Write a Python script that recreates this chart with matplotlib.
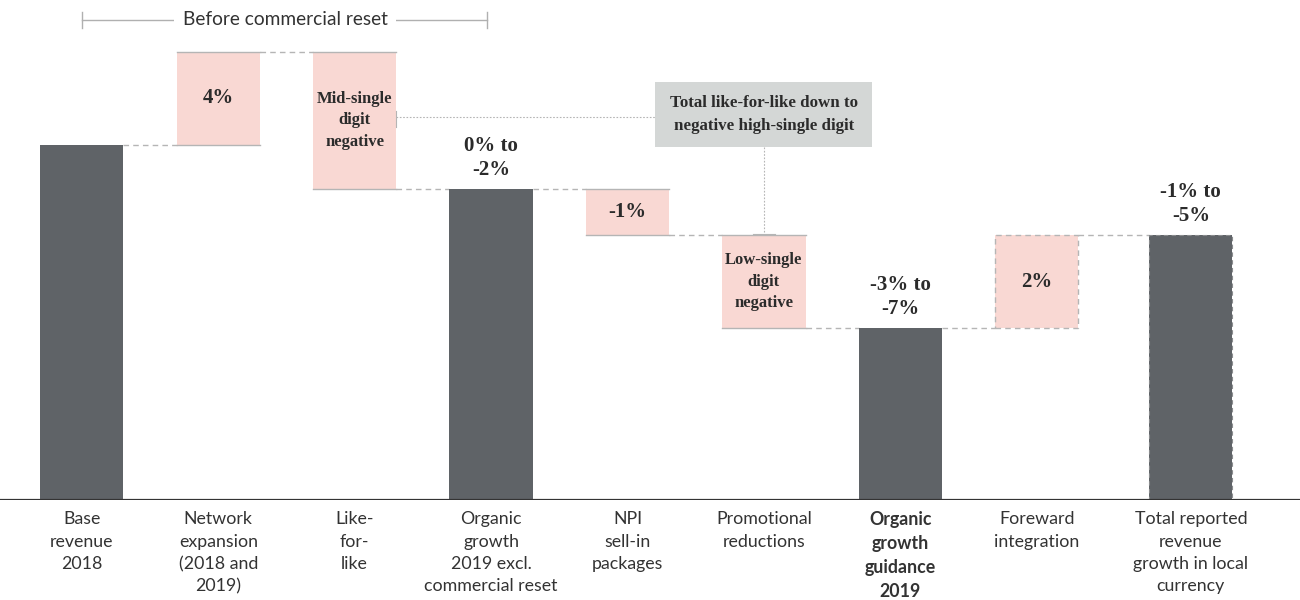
import matplotlib.pyplot as plt
import numpy as np
from matplotlib.patches import Rectangle

# data
categories = ['Base\nrevenue\n2018', 'Network\nexpansion\n(2018 and\n2019)', 'Like-\nfor-\nlike',
              'Organic\ngrowth\n2019 excl.\ncommercial reset', 'NPI\nsell-in\npackages',
              'Promotional\nreductions', 'Organic\ngrowth\nguidance\n2019', 'Foreward\nintegration',
              'Total reported\nrevenue\ngrowth in local\ncurrency']
kinds = ['start', 'delta', 'delta', 'total', 'delta', 'delta', 'total', 'delta', 'total']
changes = [100, 26.2, -38.6, 0, -13.0, -26.2, 0, 26.2, 0]
bar_labels = ['', '4%', 'Mid-single\ndigit\nnegative', '0% to\n-2%', '-1%',
              'Low-single\ndigit\nnegative', '-3% to\n-7%', '2%', '-1% to\n-5%']
bracket_text = 'Before commercial reset'
box_text = 'Total like-for-like down to\nnegative high-single digit'

DARK = '#5f6367'
PINK = '#f9d8d3'
EDGE = '#b5b5b5'

# running waterfall levels
level = 0.0
bottoms, heights, ends = [], [], []
for k, v in zip(kinds, changes):
    if k == 'start':
        level = v
        bottoms.append(0); heights.append(v)
    elif k == 'total':
        bottoms.append(0); heights.append(level)
    else:
        bottoms.append(min(level, level + v)); heights.append(abs(v))
        level += v
    ends.append(level)

x = np.arange(len(categories), dtype=float)
x[-1] += 0.13
w = 0.61

fig = plt.figure(figsize=(13, 6), dpi=100)
ax = fig.add_axes([0, 1/6, 1, 5/6])
ax.set_xlim(-0.6, 8.93)
ax.set_ylim(0, 140.8)
ax.axis('off')

for i, k in enumerate(kinds):
    if k == 'delta':
        ax.bar(x[i], heights[i], w, bottom=bottoms[i], color=PINK, zorder=2)
        if i == 7:
            ax.bar(x[i], heights[i], w, bottom=bottoms[i], fill=False, edgecolor=EDGE,
                   lw=1, linestyle=(0, (4, 3)), zorder=3)
        else:
            for yy in (bottoms[i], bottoms[i] + heights[i]):
                ax.plot([x[i] - w/2, x[i] + w/2], [yy, yy], color=EDGE, lw=1, zorder=3)
    else:
        ax.bar(x[i], heights[i], w, bottom=0, color=DARK, zorder=2)
        if i == 8:
            ax.bar(x[i], heights[i], w, bottom=0, fill=False, edgecolor='#8a8c8e',
                   lw=0.8, linestyle=(0, (4, 3)), zorder=3)

# connectors
for i in range(len(categories) - 1):
    ax.plot([x[i] + w/2, x[i+1] - w/2], [ends[i], ends[i]], color=EDGE, lw=1,
            linestyle=(0, (4, 3)), zorder=1)

# baseline
ax.axhline(0, color='#333333', lw=1.6, zorder=4)

# value labels
serif = 'Liberation Serif'
for i, lab in enumerate(bar_labels):
    if not lab:
        continue
    if kinds[i] == 'delta':
        fs = 12 if '\n' in lab else 15
        ax.text(x[i], bottoms[i] + heights[i] / 2, lab, ha='center', va='center',
                fontsize=fs, fontweight='bold', family=serif, color='#2b2b2b',
                linespacing=1.45, zorder=5)
    else:
        ax.text(x[i], heights[i] + 2.6, lab, ha='center', va='bottom', fontsize=15,
                fontweight='bold', family=serif, color='#2b2b2b', linespacing=1.25, zorder=5)

# category labels
for i, lab in enumerate(categories):
    ax.text(x[i], -3.2, lab, ha='center', va='top', fontsize=12.8, family='Lato',
            color='#333333', linespacing=1.48,
            fontweight='bold' if i == 6 else 'normal', clip_on=False)

# top bracket
by = 135.2
ax.plot([0, 2.97], [by, by], color='#b0b0b0', lw=1)
for bx in (0, 2.97):
    ax.plot([bx, bx], [133.0, 137.5], color='#b0b0b0', lw=1)
ax.text(1.49, by, bracket_text, ha='center', va='center', fontsize=13.8, family='Lato',
        color='#333333', bbox=dict(facecolor='white', edgecolor='none', pad=6))

# annotation box
bx0, bw, byc, bh = 5.0, 1.59, 108.6, 18.3
ax.add_patch(Rectangle((bx0 - bw/2, byc - bh/2), bw, bh, facecolor='#d4d7d6',
                       edgecolor='none', zorder=3))
ax.text(bx0, byc, box_text, ha='center', va='center', fontsize=12.2, fontweight='bold',
        family=serif, color='#2b2b2b', linespacing=1.6, zorder=4)
ly = 107.9
ax.plot([x[2] + w/2, bx0 - bw/2], [ly, ly], color='#b5b5b5', lw=0.8,
        linestyle=(0, (1.5, 1.5)), zorder=1)
ax.plot([x[2] + w/2] * 2, [105.1, 109.6], color='#b5b5b5', lw=0.8)
ax.plot([bx0, bx0], [byc - bh/2, ends[4]], color='#b5b5b5', lw=0.8,
        linestyle=(0, (1.5, 1.5)), zorder=1)
ax.plot([bx0 - 0.08, bx0 + 0.08], [ends[4] + 0.3] * 2, color='#b5b5b5', lw=0.8, zorder=4)

fig.savefig('out.png', dpi=100)
